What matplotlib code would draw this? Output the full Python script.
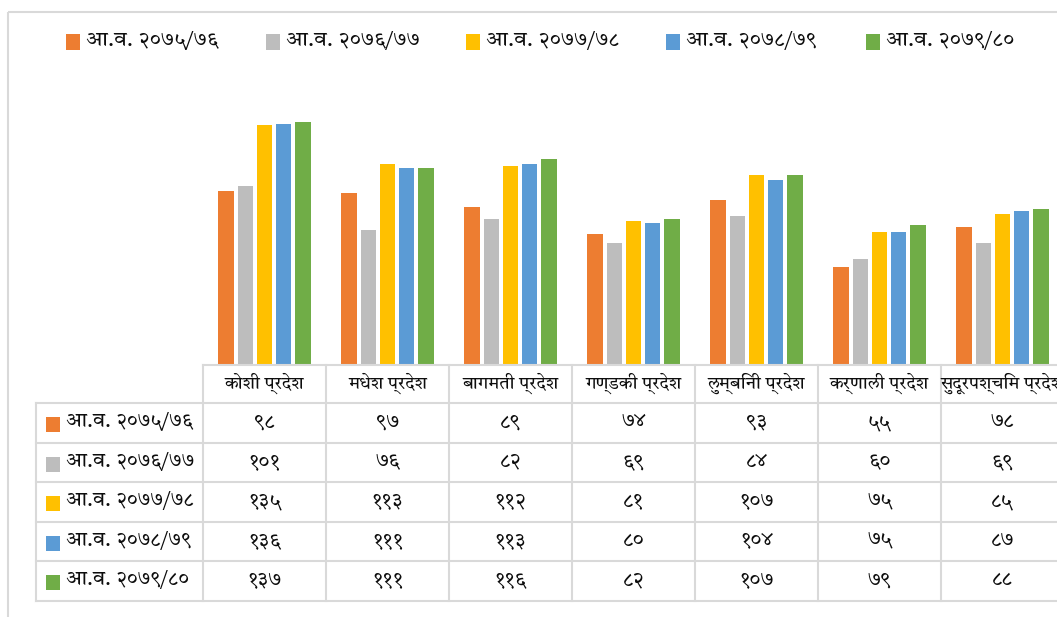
import matplotlib
matplotlib.use("Agg")
import matplotlib.pyplot as plt
from matplotlib import font_manager
from matplotlib.patches import Rectangle

# ---------------- data ----------------
categories = ["कोशी प्रदेश", "मधेश प्रदेश", "बागमती प्रदेश", "गण्डकी प्रदेश",
              "लुम्बिनी प्रदेश", "कर्णाली प्रदेश", "सुदूरपश्चिम प्रदेश"]
series_names = ["आ.व. २०७५/७६", "आ.व. २०७६/७७", "आ.व. २०७७/७८",
                "आ.व. २०७८/७९", "आ.व. २०७९/८०"]
fy_2075_76 = [98, 97, 89, 74, 93, 55, 78]
fy_2076_77 = [101, 76, 82, 69, 84, 60, 69]
fy_2077_78 = [135, 113, 112, 81, 107, 75, 85]
fy_2078_79 = [136, 111, 113, 80, 104, 75, 87]
fy_2079_80 = [137, 111, 116, 82, 107, 79, 88]
series_values = [fy_2075_76, fy_2076_77, fy_2077_78, fy_2078_79, fy_2079_80]
colors = ["#ED7D31", "#BDBDBD", "#FFC000", "#5B9BD5", "#70AD47"]

DEV_DIGITS = str.maketrans("0123456789", "०१२३४५६७८९")


def to_dev(n):
    return str(n).translate(DEV_DIGITS)


# ---------------- font: find one with Devanagari glyphs ----------------
def find_devanagari_font():
    try:
        from fontTools.ttLib import TTFont
    except Exception:
        return None
    cands = []
    for f in font_manager.fontManager.ttflist:
        try:
            tt = TTFont(f.fname, fontNumber=0, lazy=True)
            cmap = tt.getBestCmap()
            if cmap and 0x0915 in cmap and 0x0967 in cmap:
                score = 0
                n = f.name.lower()
                if "devanagari" in n:
                    score += 5
                if "sans" in n:
                    score += 2
                if f.weight in ("normal", 400, "regular"):
                    score += 1
                cands.append((score, f.name))
        except Exception:
            continue
    if not cands:
        return None
    cands.sort(reverse=True)
    return cands[0][1]


dev_font = find_devanagari_font()
families = ([dev_font] if dev_font else []) + ["DejaVu Sans"]
plt.rcParams["font.family"] = families

# ---------------- figure ----------------
W, H = 1057, 617
fig = plt.figure(figsize=(W / 100, H / 100), dpi=100)
fig.patch.set_facecolor("white")

# layout in pixels
plot_left, plot_right = 203, 1064
baseline, plot_top = 365, 81
ncat = len(categories)
col_w = (plot_right - plot_left) / ncat

ax = fig.add_axes([plot_left / W, (H - baseline) / H,
                   (plot_right - plot_left) / W, (baseline - plot_top) / H])
ax.set_xlim(-0.5, ncat - 0.5)
ax.set_ylim(0, 160)
nser = len(series_values)
bw = 15.4 / col_w
step = 19.2 / col_w
for i, (vals, c) in enumerate(zip(series_values, colors)):
    xs = [k + (i - (nser - 1) / 2) * step for k in range(ncat)]
    ax.bar(xs, vals, width=bw, color=c, zorder=2)
ax.axis("off")

# overlay axes in pixel coords for table, legend, border
ov = fig.add_axes([0, 0, 1, 1], zorder=3)
ov.set_xlim(0, W)
ov.set_ylim(H, 0)
ov.axis("off")
ov.patch.set_alpha(0)

grid_c = "#D9D9D9"
text_c = "#0D0D0D"
# outer chart border
ov.add_patch(Rectangle((8, 12), 1200, 700, fill=False, edgecolor=grid_c, lw=1.5))

# legend
leg_x0, leg_dx, leg_y = 66, 200, 41
for i, (name, c) in enumerate(zip(series_names, colors)):
    x = leg_x0 + i * leg_dx
    ov.add_patch(Rectangle((x, leg_y - 7), 14, 16, facecolor=c, edgecolor="none"))
    ov.text(x + 20, leg_y, name, fontsize=15, va="center", ha="left", color=text_c)

# table
row_lines = [365, 403, 443, 482, 522, 561, 601]
label_left = 36
col_edges = [plot_left + k * col_w for k in range(ncat + 1)]

# horizontal lines
ov.plot([plot_left, W + 20], [row_lines[0]] * 2, color=grid_c, lw=1.5)
for y in row_lines[1:]:
    ov.plot([label_left, W + 20], [y, y], color=grid_c, lw=1.5)
# vertical lines
ov.plot([label_left, label_left], [row_lines[1], row_lines[-1]], color=grid_c, lw=1.5)
for x in col_edges:
    ov.plot([x, x], [row_lines[0], row_lines[-1]], color=grid_c, lw=1.5)

# header
hy = (row_lines[0] + row_lines[1]) / 2 - 1
for k, cat in enumerate(categories):
    ov.text(col_edges[k] + col_w / 2, hy, cat, fontsize=13, ha="center", va="center",
            color=text_c)

# rows
for i, (name, vals, c) in enumerate(zip(series_names, series_values, colors)):
    ry = (row_lines[i + 1] + row_lines[i + 2]) / 2
    ov.add_patch(Rectangle((46, ry - 6), 14, 15, facecolor=c, edgecolor="none"))
    ov.text(66, ry - 1, name, fontsize=14.5, ha="left", va="center", color=text_c)
    for k, v in enumerate(vals):
        ov.text(col_edges[k] + col_w / 2, ry - 1, to_dev(v), fontsize=15,
                ha="center", va="center", color=text_c)

fig.savefig("out.png", dpi=100, facecolor="white")
